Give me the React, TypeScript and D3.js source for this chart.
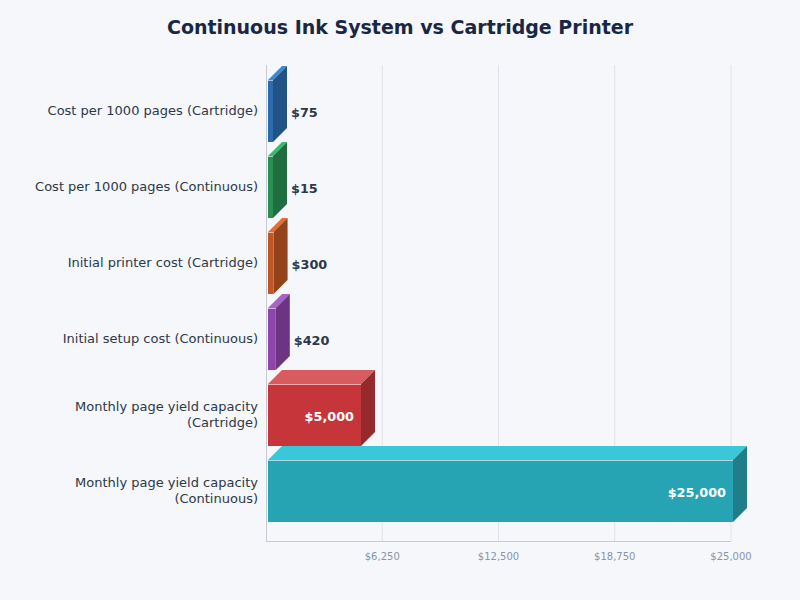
import React from "react";
import * as d3 from "d3";

const categories = [
  "Cost per 1000 pages (Cartridge)",
  "Cost per 1000 pages (Continuous)",
  "Initial printer cost (Cartridge)",
  "Initial setup cost (Continuous)",
  "Monthly page yield capacity (Cartridge)",
  "Monthly page yield capacity (Continuous)",
];
const values = [75, 15, 300, 420, 5000, 25000];
const colors = ["#2b6cb0", "#2a8f52", "#c05621", "#8e44ad", "#c53539", "#27a4b4"];
const ticks = [6250, 12500, 18750, 25000];

const W = 800;
const H = 600;
const DEPTH = 14;

// split long labels into two lines at the "(" part
function labelLines(s: string): string[] {
  if (s.length <= 34) return [s];
  const i = s.indexOf(" (");
  return [s.slice(0, i), s.slice(i + 1)];
}

export default function App() {
  const x = d3.scaleLinear().domain([0, 25000]).range([266, 731]);
  const y = d3
    .scaleBand()
    .domain(categories)
    .range([73, 529])
    .paddingInner(14 / 76)
    .paddingOuter(7 / 76);
  const fmt = d3.format("$,");

  return (
    <svg width={W} height={H} style={{ display: "block", fontFamily: "DejaVu Sans, sans-serif" }}>
      <style>{`body{margin:0;background:#f5f7fb}`}</style>
      <rect width={W} height={H} fill="#f5f7fb" />
      <text x={400} y={34} textAnchor="middle" fontSize={19} fontWeight="bold" fill="#1a2744">
        Continuous Ink System vs Cartridge Printer
      </text>

      {ticks.map((t) => (
        <g key={t}>
          <line x1={x(t)} x2={x(t)} y1={65} y2={541} stroke="#dfe2e8" strokeWidth={1} />
          <text x={x(t)} y={560} textAnchor="middle" fontSize={10} fill="#8a94a6">
            {fmt(t)}
          </text>
        </g>
      ))}
      <line x1={266.5} x2={266.5} y1={65} y2={541.5} stroke="#c5cad3" />
      <line x1={266} x2={731} y1={541.5} y2={541.5} stroke="#c5cad3" />

      {categories.map((c, i) => {
        const v = values[i];
        const by = y(c) ?? 0;
        const bh = y.bandwidth();
        const bx = x(0) + 2;
        const bw = Math.max(x(v) - x(0), 5);
        const hsl = d3.hsl(colors[i]);
        const top = d3.hsl(hsl.h, Math.min(1, hsl.s * 1.05), hsl.l + 0.11).formatHex();
        const side = d3.color(colors[i])!.darker(0.75).formatHex();
        const ex = bx + bw;
        const cy = by + bh / 2;
        const inside = bw > 60;
        const lines = labelLines(c);
        return (
          <g key={c}>
            <polygon
              points={`${bx},${by} ${bx + DEPTH},${by - DEPTH} ${ex + DEPTH},${by - DEPTH} ${ex},${by}`}
              fill={top}
            />
            <polygon
              points={`${ex},${by} ${ex + DEPTH},${by - DEPTH} ${ex + DEPTH},${by + bh - DEPTH} ${ex},${by + bh}`}
              fill={side}
            />
            <rect x={bx} y={by} width={bw} height={bh} fill={colors[i]} />
            <line x1={bx} x2={ex} y1={by + 0.5} y2={by + 0.5} stroke="#ffffff" strokeOpacity={0.6} />
            <text
              x={inside ? ex - 7 : ex + DEPTH + 4}
              y={cy + 2}
              textAnchor={inside ? "end" : "start"}
              dominantBaseline="middle"
              fontSize={12.8}
              fontWeight="bold"
              fill={inside ? "#ffffff" : "#2d3748"}
            >
              {fmt(v)}
            </text>
            <text
              x={258}
              y={cy - ((lines.length - 1) * 16) / 2}
              textAnchor="end"
              dominantBaseline="middle"
              fontSize={13}
              fill="#2d3748"
            >
              {lines.map((l, k) => (
                <tspan key={k} x={258} dy={k === 0 ? 0 : 16}>
                  {l}
                </tspan>
              ))}
            </text>
          </g>
        );
      })}
    </svg>
  );
}
